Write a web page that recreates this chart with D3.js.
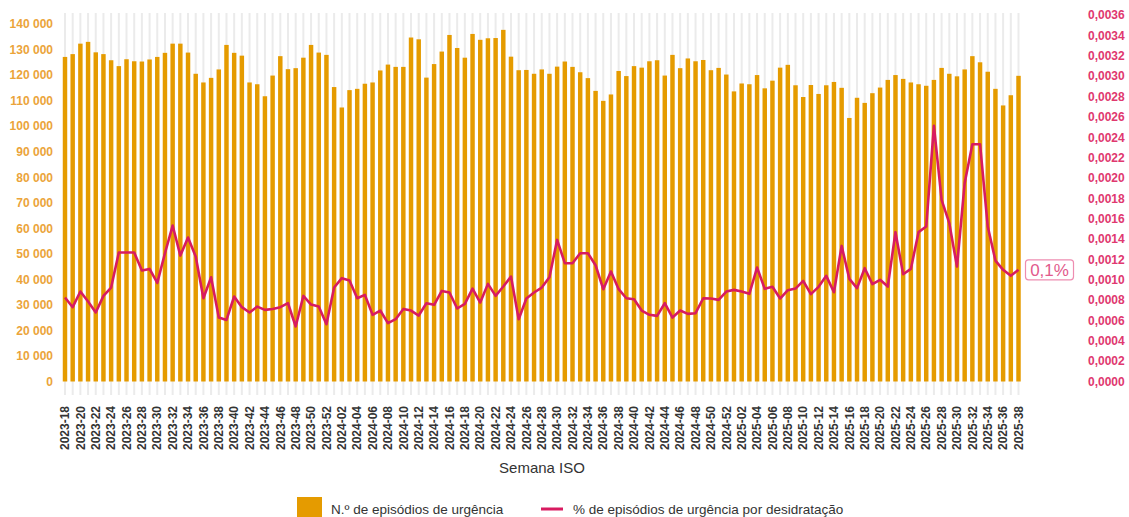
<!DOCTYPE html>
<html>
<head>
<meta charset="utf-8">
<script src="https://cdn.jsdelivr.net/npm/d3@7"></script>
<style>
  html, body { margin: 0; padding: 0; background: #fff; }
  svg { display: block; font-family: "Liberation Sans", Arial, sans-serif; }
</style>
</head>
<body>
<svg id="chart" width="1129" height="517"></svg>
<script>
// ---- Data ----
const years = [2023, 2024, 2025];
const firstWeek = { 2023: 18, 2024: 1, 2025: 1 };
const lastWeek = { 2023: 52, 2024: 52, 2025: 38 };
const weeks = [];
years.forEach(y => {
  for (let w = firstWeek[y]; w <= lastWeek[y]; w++) weeks.push(y + "-" + String(w).padStart(2, "0"));
});

const episodes = [
  127100, 128200, 132300, 133000, 128900, 128200, 125800, 123500, 126200, 125400,
  125300, 126100, 127100, 128700, 132300, 132300, 128800, 120500, 117100, 118900,
  122200, 131800, 128700, 127600, 117100, 116400, 111700, 119800, 127400, 122300,
  122700, 126800, 131800, 128800, 127900, 115300, 107300, 114100, 114600, 116600,
  117100, 121800, 124100, 123200, 123200, 134700, 134000, 119000, 124300, 129200,
  135700, 130600, 126800, 136100, 133800, 134400, 134500, 137700, 127200, 121900,
  122000, 120500, 122200, 120500, 123300, 125300, 123200, 121100, 118800, 113800,
  109900, 112400, 121600, 119600, 123500, 122900, 125400, 125800, 119800, 127900,
  122700, 126500, 125400, 125900, 121900, 122800, 120200, 113600, 116700, 116400,
  120000, 114800, 117800, 122900, 124000, 116000, 111400, 116100, 112600, 116000,
  117300, 115000, 103200, 111100, 109100, 112900, 115100, 118100, 120000, 118500,
  117100, 116400, 115800, 118100, 122800, 120500, 119500, 122200, 127400, 125000,
  121300, 114600, 108100, 112100, 119700
];

const dehydrationShare = [
  0.000825, 0.000730, 0.000884, 0.000786, 0.000678, 0.000841, 0.000923, 0.001267, 0.001267, 0.001267,
  0.001090, 0.001106, 0.000969, 0.001260, 0.001532, 0.001237, 0.001414, 0.001227, 0.000818, 0.001024,
  0.000628, 0.000605, 0.000835, 0.000730, 0.000678, 0.000736, 0.000704, 0.000713, 0.000730, 0.000769,
  0.000540, 0.000841, 0.000756, 0.000736, 0.000563, 0.000923, 0.001015, 0.000992, 0.000818, 0.000851,
  0.000655, 0.000697, 0.000573, 0.000612, 0.000713, 0.000697, 0.000648, 0.000769, 0.000753, 0.000890,
  0.000874, 0.000717, 0.000763, 0.000913, 0.000776, 0.000959, 0.000841, 0.000933, 0.001031, 0.000612,
  0.000815, 0.000874, 0.000923, 0.001024, 0.001391, 0.001162, 0.001162, 0.001260, 0.001260, 0.001142,
  0.000907, 0.001080, 0.000907, 0.000818, 0.000808, 0.000697, 0.000655, 0.000645, 0.000769, 0.000628,
  0.000697, 0.000664, 0.000671, 0.000818, 0.000815, 0.000802, 0.000884, 0.000900, 0.000884, 0.000861,
  0.001120, 0.000910, 0.000930, 0.000815, 0.000897, 0.000913, 0.000989, 0.000858, 0.000930, 0.001038,
  0.000877, 0.001332, 0.001008, 0.000917, 0.001113, 0.000956, 0.000999, 0.000933, 0.001467, 0.001054,
  0.001106, 0.001467, 0.001522, 0.002511, 0.001784, 0.001555, 0.001129, 0.001950, 0.002331, 0.002331,
  0.001522, 0.001188, 0.001097, 0.001038, 0.001097
];

const leftTicks = [0, 10000, 20000, 30000, 40000, 50000, 60000, 70000, 80000, 90000, 100000, 110000, 120000, 130000, 140000];
const rightTicks = [0, 0.0002, 0.0004, 0.0006, 0.0008, 0.0010, 0.0012, 0.0014, 0.0016, 0.0018, 0.0020, 0.0022, 0.0024, 0.0026, 0.0028, 0.0030, 0.0032, 0.0034, 0.0036];
const xTickLabels = weeks.filter((d, i) => i % 2 === 0);
const lastLabel = "0,1%";
const xTitle = "Semana ISO";
const legendBar = "N.º de episódios de urgência";
const legendLine = "% de episódios de urgência por desidratação";

// ---- Styles ----
const barColor = "#E59B00";
const lineColor = "#D81B60";
const leftTickColor = "#EBA43A";
const rightTickColor = "#E0386F";

const svg = d3.select("#chart");
const plotTop = 13, plotBottom = 381.5;

const x = d3.scaleBand().domain(weeks).range([61.15, 1022.35]).paddingInner(0.42).paddingOuter(0.21);
const yL = d3.scaleLinear().domain([0, 144300]).range([plotBottom, plotTop]);
const yR = d3.scaleLinear().domain([0, 0.00362]).range([plotBottom, plotTop]);
const cx = d => x(d) + x.bandwidth() / 2;

// vertical grid stripes
svg.append("g").selectAll("line").data(weeks).join("line")
  .attr("x1", cx).attr("x2", cx)
  .attr("y1", plotTop).attr("y2", 395)
  .attr("stroke", "#EBEBEB").attr("stroke-width", 2);

// bars
svg.append("g").selectAll("rect").data(weeks).join("rect")
  .attr("x", d => x(d))
  .attr("width", x.bandwidth())
  .attr("y", (d, i) => yL(episodes[i]))
  .attr("height", (d, i) => yL(0) - yL(episodes[i]))
  .attr("fill", barColor);

// line
const line = d3.line().x((d, i) => cx(weeks[i])).y(d => yR(d));
svg.append("path").datum(dehydrationShare)
  .attr("d", line)
  .attr("fill", "none")
  .attr("stroke", lineColor)
  .attr("stroke-width", 2.6)
  .attr("stroke-linejoin", "round");

// left axis
const fmtL = v => d3.format(",")(v).replace(/,/g, " ");
const gL = svg.append("g").attr("transform", "translate(53,0)")
  .call(d3.axisLeft(yL).tickValues(leftTicks).tickFormat(fmtL).tickSize(0).tickPadding(0));
gL.select(".domain").remove();
gL.selectAll("text").attr("fill", leftTickColor).attr("font-size", 12).attr("font-weight", "bold")
  .attr("font-family", "Liberation Sans, Arial, sans-serif");

// right axis
const fmtR = v => d3.format(".4f")(v).replace(".", ",");
const gR = svg.append("g").attr("transform", "translate(1088,0)")
  .call(d3.axisRight(yR).tickValues(rightTicks).tickFormat(fmtR).tickSize(0).tickPadding(0));
gR.select(".domain").remove();
gR.selectAll("text").attr("fill", rightTickColor).attr("font-size", 12).attr("font-weight", "bold")
  .attr("font-family", "Liberation Sans, Arial, sans-serif");

// bottom axis
const gX = svg.append("g").attr("transform", "translate(0,406)")
  .call(d3.axisBottom(x).tickValues(xTickLabels).tickSize(0).tickPadding(0));
gX.select(".domain").remove();
gX.selectAll("text")
  .attr("transform", "rotate(-90)")
  .attr("text-anchor", "end")
  .attr("x", 0).attr("y", 0).attr("dy", "0.35em")
  .attr("fill", "#333").attr("font-size", 12).attr("font-weight", "bold")
  .attr("font-family", "Liberation Sans, Arial, sans-serif");

// x title
svg.append("text").attr("x", 542).attr("y", 473).attr("text-anchor", "middle")
  .attr("font-size", 15).attr("fill", "#333").text(xTitle);

// last value label
const lastX = cx(weeks[weeks.length - 1]);
const lastY = yR(dehydrationShare[dehydrationShare.length - 1]);
svg.append("rect").attr("x", lastX + 7).attr("y", lastY - 10).attr("width", 48).attr("height", 20)
  .attr("rx", 3).attr("fill", "#fff").attr("stroke", "#EE8DB1").attr("stroke-width", 1.2);
svg.append("text").attr("x", lastX + 31).attr("y", lastY + 6).attr("text-anchor", "middle")
  .attr("font-size", 17).attr("fill", "#E25A8C").text(lastLabel);

// legend
svg.append("rect").attr("x", 297).attr("y", 497).attr("width", 25).attr("height", 22).attr("fill", barColor);
svg.append("text").attr("x", 331).attr("y", 514).attr("font-size", 13.5).attr("fill", "#333").text(legendBar);
svg.append("line").attr("x1", 541).attr("x2", 563).attr("y1", 509).attr("y2", 509)
  .attr("stroke", lineColor).attr("stroke-width", 3);
svg.append("text").attr("x", 573).attr("y", 514).attr("font-size", 13.5).attr("fill", "#333").text(legendLine);
</script>
</body>
</html>
